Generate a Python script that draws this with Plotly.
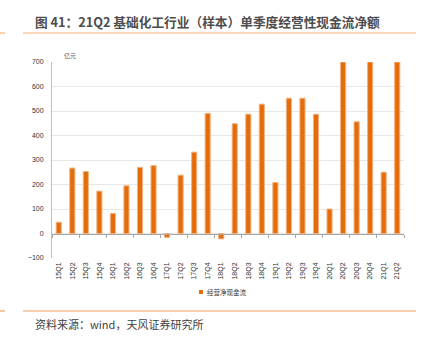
import plotly.graph_objects as go

categories = ["15Q1","15Q2","15Q3","15Q4","16Q1","16Q2","16Q3","16Q4",
              "17Q1","17Q2","17Q3","17Q4","18Q1","18Q2","18Q3","18Q4",
              "19Q1","19Q2","19Q3","19Q4","20Q1","20Q2","20Q3","20Q4",
              "21Q1","21Q2"]
values = [46, 267, 253, 173, 82, 195, 270, 277,
          -16, 238, 332, 490, -22, 448, 487, 528,
          208, 552, 552, 487, 100, 700, 456, 700,
          250, 700]
series_name = "经营净现金流"
y_ticks = [-100, 0, 100, 200, 300, 400, 500, 600, 700]

ORANGE = "#E46C0A"
FONT = "Noto Sans CJK SC"

plot_w = 429 - 52 - 25
plot_h = 343 - 62 - 85
def px_x(px):
    return (px - 52) / plot_w
def px_y(py):
    return (343 - 85 - py) / plot_h

fig = go.Figure()
fig.add_trace(go.Bar(
    x=categories, y=values, name=series_name, showlegend=False,
    marker=dict(color=ORANGE, line=dict(color="#F3B27F", width=1)),
    width=0.38,
))
# overlay axis for zero-line tick marks
fig.add_trace(go.Bar(x=categories, y=[None]*len(categories), xaxis="x2",
                     showlegend=False, hoverinfo="skip"))

fig.update_layout(
    width=429, height=343,
    margin=dict(l=52, r=25, t=62, b=85),
    paper_bgcolor="white", plot_bgcolor="white",
    font=dict(family=FONT, size=7, color="#333333"),
    showlegend=False,
    xaxis=dict(
        type="category", tickangle=-90, showline=False, showgrid=False,
        ticks="", tickfont=dict(size=7, family="Arial, Liberation Sans", color="#333333"),
        zeroline=False, ticklabelstandoff=2,
    ),
    xaxis2=dict(
        type="category", overlaying="x", anchor="free", position=0.125,
        showticklabels=False, showline=True, linecolor="#A6A6A6", linewidth=1,
        ticks="outside", ticklen=3, tickcolor="#A6A6A6", tickson="boundaries",
        matches="x", showgrid=False,
    ),
    yaxis=dict(
        range=[-100, 700], tickvals=y_ticks, showgrid=True, gridcolor="#E8E8E8",
        gridwidth=1, zeroline=False, showline=True, linecolor="#BFBFBF",
        tickfont=dict(size=7, family="Arial, Liberation Sans", color="#333333"),
        ticks="", ticklabelstandoff=6,
    ),
    annotations=[
        dict(text="图 41：21Q2 基础化工行业（样本）单季度经营性现金流净额",
             xref="paper", yref="paper", x=px_x(33), y=px_y(21),
             xanchor="left", yanchor="middle", showarrow=False,
             font=dict(family=FONT, size=12.7, color="#4D4D4D", weight="bold")),
        dict(text="资料来源：wind，天风证券研究所", xref="paper", yref="paper",
             x=px_x(33), y=px_y(324),
             xanchor="left", yanchor="middle", showarrow=False,
             font=dict(family=FONT, size=11, color="#404040")),
        dict(text="亿元", xref="paper", yref="paper", x=px_x(62), y=px_y(62),
             xanchor="left", yanchor="bottom", showarrow=False,
             font=dict(family=FONT, size=6, color="#595959")),
        dict(text=series_name, xref="paper", yref="paper", x=px_x(204.5), y=px_y(292),
             xanchor="left", yanchor="middle", showarrow=False,
             font=dict(family=FONT, size=6.5, color="#333333")),
    ],
)

# legend swatch
fig.add_shape(type="rect", xref="paper", yref="paper",
              x0=px_x(199), x1=px_x(203), y0=px_y(294), y1=px_y(290),
              fillcolor=ORANGE, line=dict(width=0))

fig.add_shape(type="line", xref="paper", yref="paper", x0=px_x(23), x1=px_x(416),
              y0=px_y(33), y1=px_y(33), line=dict(color="#F7B07A", width=1.2))
fig.add_shape(type="line", xref="paper", yref="paper", x0=px_x(0), x1=px_x(5),
              y0=px_y(33), y1=px_y(33), line=dict(color="#F7B07A", width=1.2))
fig.add_shape(type="line", xref="paper", yref="paper", x0=px_x(23), x1=px_x(416),
              y0=px_y(311), y1=px_y(311), line=dict(color="#F0A060", width=1.2))
fig.add_shape(type="line", xref="paper", yref="paper", x0=px_x(0), x1=px_x(5),
              y0=px_y(311), y1=px_y(311), line=dict(color="#F0A060", width=1.2))

fig.write_html("out.html")
